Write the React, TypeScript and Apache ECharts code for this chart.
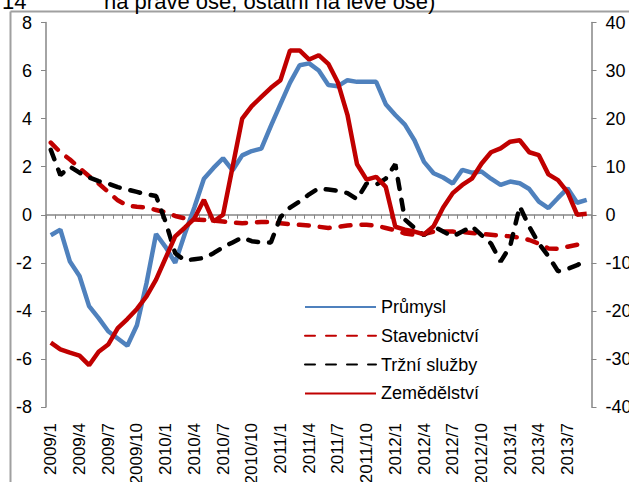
import React, { useEffect, useRef } from "react";
import * as echarts from "echarts";

const categories = [
  "2009/1", "2009/2", "2009/3", "2009/4", "2009/5", "2009/6", "2009/7", "2009/8", "2009/9", "2009/10", "2009/11", "2009/12",
  "2010/1", "2010/2", "2010/3", "2010/4", "2010/5", "2010/6", "2010/7", "2010/8", "2010/9", "2010/10", "2010/11", "2010/12",
  "2011/1", "2011/2", "2011/3", "2011/4", "2011/5", "2011/6", "2011/7", "2011/8", "2011/9", "2011/10", "2011/11", "2011/12",
  "2012/1", "2012/2", "2012/3", "2012/4", "2012/5", "2012/6", "2012/7", "2012/8", "2012/9", "2012/10", "2012/11", "2012/12",
  "2013/1", "2013/2", "2013/3", "2013/4", "2013/5", "2013/6", "2013/7", "2013/8", "2013/9",
];

// left axis
const prumysl = [
  -0.85, -0.62, -1.95, -2.55, -3.8, -4.3, -4.85, -5.15, -5.45, -4.6,
  -2.85, -0.8, -1.35, -2.0, -0.8, 0.3, 1.5, 1.95, 2.35, 1.85,
  2.47, 2.65, 2.75, 3.7, 4.6, 5.5, 6.22, 6.3, 6.0, 5.4,
  5.35, 5.6, 5.53, 5.53, 5.53, 4.6, 4.15, 3.75, 3.1, 2.2,
  1.73, 1.55, 1.3, 1.87, 1.75, 1.8, 1.5, 1.24, 1.38, 1.31,
  1.07, 0.55, 0.28, 0.7, 1.1, 0.5, 0.62,
];

// left axis
const stavebnictvi = [
  3.0, 2.6, 2.3, 1.95, 1.6, 1.3, 0.95, 0.6, 0.38, 0.33,
  0.3, 0.2, 0.1, -0.05, -0.15, -0.2, -0.22, -0.24, -0.28, -0.33,
  -0.35, -0.33, -0.3, -0.3, -0.35, -0.4, -0.42, -0.45, -0.5, -0.55,
  -0.5, -0.45, -0.42, -0.42, -0.45, -0.55, -0.65, -0.78, -0.83, -0.8,
  -0.7, -0.7, -0.7, -0.72, -0.76, -0.8, -0.83, -0.87, -0.9, -0.95,
  -1.05, -1.2, -1.4, -1.42, -1.33, -1.25, -1.17,
];

// left axis
const trzniSluzby = [
  2.7, 1.65, 2.0, 1.75, 1.55, 1.4, 1.3, 1.15, 1.05, 0.95,
  0.85, 0.78, -0.3, -1.6, -1.9, -1.85, -1.8, -1.6, -1.35, -1.15,
  -0.95, -1.1, -1.15, -1.15, -0.1, 0.3, 0.55, 0.85, 1.1, 1.05,
  1.0, 0.9, 0.65, 1.3, 1.25, 1.5, 2.1, -0.2, -0.55, -0.85,
  -0.48, -0.7, -0.9, -0.7, -0.48, -0.85, -1.2, -1.95, -1.31, 0.35,
  -0.5, -1.2, -1.73, -2.35, -2.25, -2.1, -1.87,
];

// right axis
const zemedelstvi = [
  -26.6, -28.0, -28.7, -29.3, -31.3, -28.5, -27.0, -23.6, -21.7, -19.6,
  -17.0, -13.5, -9.0, -4.5, -2.7, -0.8, 3.1, -1.4, 0.0, 10.0,
  20.0, 22.6, 24.5, 26.4, 28.0, 34.2, 34.2, 32.3, 33.2, 31.4,
  27.5, 20.8, 10.5, 7.3, 7.9, 5.8, -2.5, -3.1, -3.5, -4.1,
  -2.4, 1.5, 4.5, 6.2, 7.5, 10.6, 13.0, 13.8, 15.2, 15.5,
  13.0, 12.4, 8.4, 7.2, 4.7, 0.0, 0.2,
];

const seriesNames = ["Průmysl", "Stavebnictví", "Tržní služby", "Zemědělství"];
const titleLeft = "14";
const titleRight = "na pravé ose, ostatní na levé ose)";

const FONT = "'Liberation Sans', Arial, sans-serif";
const AXIS_GRAY = "#868686";
const LW = 4.5;

export default function App() {
  const ref = useRef<HTMLDivElement>(null);
  useEffect(() => {
    const chart = echarts.init(ref.current!, null, { renderer: "svg" });
    const dash = { type: [10, 11], cap: "round" };
    chart.setOption({
      animation: false,
      textStyle: { fontFamily: FONT },
      grid: { left: 46, right: 37.5, top: 22.5, bottom: 75, containLabel: false, outerBoundsMode: "none" },
      legend: {
        orient: "vertical",
        left: 299,
        top: 293,
        itemWidth: 71,
        itemHeight: 14,
        itemGap: 10.8,
        data: seriesNames,
        itemStyle: { opacity: 0 },
        textStyle: { fontSize: 18, color: "#000", fontFamily: FONT },
      },
      xAxis: [
        {
          type: "category",
          data: categories,
          position: "top",
          boundaryGap: true,
          axisLine: { onZero: true, lineStyle: { color: AXIS_GRAY, width: 1.5 } },
          axisTick: { show: true, interval: 0, inside: true, length: 4, lineStyle: { color: AXIS_GRAY } },
          axisLabel: { show: false },
          splitLine: { show: false },
        },
        {
          type: "category",
          data: categories,
          position: "bottom",
          boundaryGap: true,
          axisLine: { show: false, onZero: false },
          axisTick: { show: false },
          axisLabel: { interval: 2, rotate: 90, fontSize: 17, margin: 16, color: "#000", fontFamily: FONT },
          splitLine: { show: false },
        },
      ],
      yAxis: [
        {
          type: "value",
          min: -8,
          max: 8,
          interval: 2,
          position: "left",
          axisLine: { show: true, lineStyle: { color: AXIS_GRAY, width: 1.5 } },
          axisTick: { show: true, length: 5, lineStyle: { color: AXIS_GRAY } },
          splitLine: { show: false },
          axisLabel: { fontSize: 18, color: "#000", margin: 14, fontFamily: FONT },
        },
        {
          type: "value",
          min: -40,
          max: 40,
          interval: 10,
          position: "right",
          axisLine: { show: true, lineStyle: { color: AXIS_GRAY, width: 1.5 } },
          axisTick: { show: true, length: 5, lineStyle: { color: AXIS_GRAY } },
          splitLine: { show: false },
          axisLabel: { fontSize: 18, color: "#000", margin: 14, fontFamily: FONT },
        },
      ],
      series: [
        {
          name: seriesNames[0],
          type: "line",
          data: prumysl,
          xAxisIndex: 0,
          yAxisIndex: 0,
          symbol: "none",
          color: "#4F81BD",
          lineStyle: { width: LW, color: "#4F81BD" },
        },
        {
          name: seriesNames[1],
          type: "line",
          data: stavebnictvi,
          xAxisIndex: 0,
          yAxisIndex: 0,
          symbol: "none",
          color: "#C00000",
          lineStyle: { width: LW, color: "#C00000", ...dash },
        },
        {
          name: seriesNames[2],
          type: "line",
          data: trzniSluzby,
          xAxisIndex: 0,
          yAxisIndex: 0,
          symbol: "none",
          color: "#000000",
          lineStyle: { width: LW, color: "#000000", ...dash },
        },
        {
          name: seriesNames[3],
          type: "line",
          data: zemedelstvi,
          xAxisIndex: 0,
          yAxisIndex: 1,
          symbol: "none",
          color: "#C00000",
          lineStyle: { width: LW, color: "#C00000" },
        },
      ],
      graphic: [
        { type: "line", shape: { x1: 10.5, y1: 11.5, x2: 629, y2: 11.5 }, style: { stroke: "#a0a0a0", lineWidth: 2 } },
        { type: "line", shape: { x1: 10.5, y1: 11.5, x2: 10.5, y2: 482 }, style: { stroke: "#a0a0a0", lineWidth: 2 } },
        {
          type: "text",
          x: 2,
          y: 12,
          style: { text: titleLeft, fontSize: 22, fontFamily: FONT, fill: "#000", verticalAlign: "bottom" },
        },
        {
          type: "text",
          x: 104,
          y: 12,
          style: { text: titleRight, fontSize: 22, fontFamily: FONT, fill: "#000", verticalAlign: "bottom" },
        },
      ],
    });
    return () => chart.dispose();
  }, []);
  return <div ref={ref} style={{ position: "absolute", left: 0, top: 0, width: 629, height: 482 }} />;
}
